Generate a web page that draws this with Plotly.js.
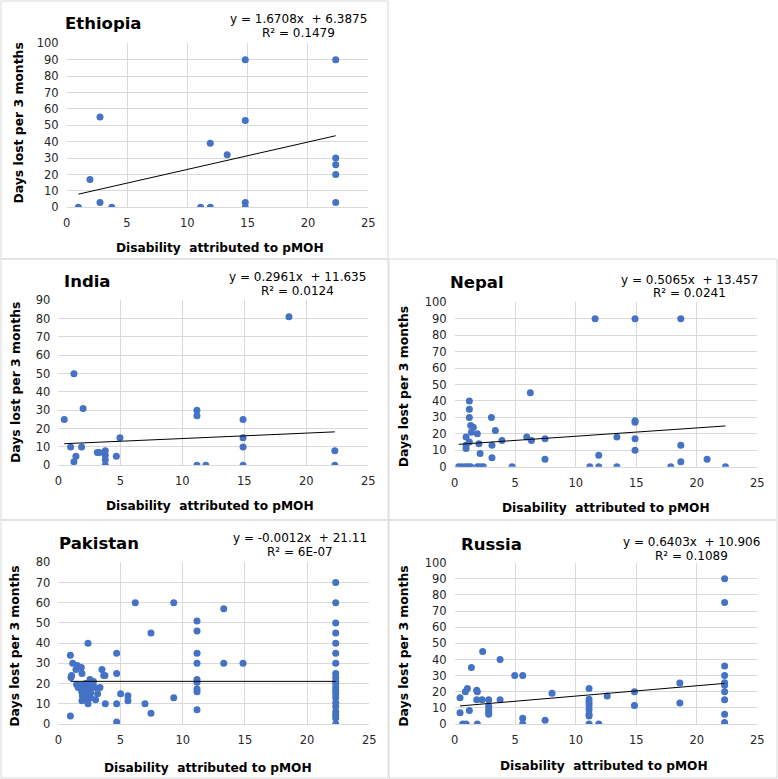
<!DOCTYPE html>
<html>
<head>
<meta charset="utf-8">
<script src="https://cdn.plot.ly/plotly-3.0.1.min.js"></script>
<style>body{margin:0;background:#fff}#plot{width:778px;height:779px}</style>
</head>
<body>
<div id="plot"></div>
<script>
// values
var countries = ["Ethiopia", "India", "Nepal", "Pakistan", "Russia"];

var ethX = [0.97, 1.93, 2.76, 2.76, 3.73, 11.1, 11.9, 11.9, 13.3, 14.8, 14.8, 14.8, 14.8, 22.3, 22.3, 22.3, 22.3, 22.3];
var ethY = [0, 17, 55, 3, 0, 0, 0, 39, 32, 90, 53, 3, 0, 90, 30, 26, 20, 3];

var indX = [0.48, 1.26, 2.0, 0.99, 1.88, 1.26, 1.42, 3.15, 3.3, 3.79, 3.79, 3.79, 3.79, 4.68, 4.97, 11.18, 11.18, 11.18, 11.9, 14.9, 14.9, 14.9, 14.9, 18.6, 22.3, 22.3];
var indY = [25, 50, 31, 10, 10, 2, 5, 7, 7, 8, 5.5, 3, 0, 5, 15, 30, 27, 0, 0, 25, 15, 10, 0, 81, 8, 0];

var nepX = [0.33, 0.6, 0.88, 1.1, 1.32, 1.87, 2.1, 2.37, 4.74, 11.16, 11.9, 13.4, 17.85, 22.37,
  1.21, 1.21, 1.21, 1.32, 1.54, 1.38, 0.94, 0.94, 0.94, 1.21, 1.87, 2.0, 2.1,
  3.03, 3.08, 3.08, 3.36, 3.9, 5.95, 6.25, 6.34, 7.46, 7.46,
  11.6, 11.9, 13.4, 14.9, 14.9, 14.9, 14.9, 14.9, 18.68, 18.68, 18.68, 20.85];
var nepY = [0, 0, 0, 0, 0, 0, 0, 0, 0, 0, 0, 0, 0, 0,
  40, 35, 30, 25, 24, 21, 18, 13, 11, 15, 20, 14, 8,
  30, 13, 5.5, 22, 16, 18, 45, 16, 17, 4.5,
  90, 7, 18, 90, 28, 27, 17, 10, 90, 13, 3, 4.5];

var pakX = [0.97, 0.97, 1.02, 1.07, 1.16, 1.42, 1.53, 1.85, 1.47, 1.6, 1.74, 1.9, 1.88, 1.93, 1.9, 1.88,
  2.39, 2.23, 2.33, 2.39, 2.44, 2.55, 2.6, 2.5, 2.82, 2.95, 3.0, 3.16, 3.35, 3.51, 3.75, 3.65, 3.78, 2.7, 2.2, 2.1, 2.6,
  4.69, 4.69, 4.69, 4.69, 5.01, 5.6, 5.6, 6.19, 6.97, 7.45, 7.45, 9.28, 9.28,
  11.15, 11.15, 11.15, 11.15, 11.15, 11.15, 11.15, 11.15, 11.15, 13.3, 13.3, 14.85,
  22.3, 22.3, 22.3, 22.3, 22.3, 22.3, 22.3, 22.3, 22.3, 22.3, 22.3, 22.3, 22.3, 22.3, 22.3, 22.3, 22.3, 22.3, 22.3, 22.3, 22.3];
var pakY = [34, 4, 23, 24, 30, 27, 29, 28, 19.5, 18, 19, 25, 16, 14, 11.5, 19,
  40, 14, 12, 10, 17, 22, 15.5, 19, 21, 18, 12, 15, 18, 27, 24, 24, 10, 20, 20, 17, 13,
  35, 25, 10, 1, 15, 14, 11.5, 60, 10, 45, 5.3, 60, 13,
  51, 46, 35, 30, 22, 20.6, 17.3, 16, 7, 57, 30, 30,
  70, 60, 50, 45, 40, 35, 30, 25, 23, 21, 20, 18, 16.5, 15, 13, 10.5, 8.5, 6, 4.5, 3, 0];

var rusX = [0.44, 0.44, 0.66, 0.94, 0.88, 1.05, 1.21, 1.38, 1.82, 1.87, 1.82, 1.87, 2.26, 2.31, 2.81, 2.81, 2.81, 2.81, 2.81,
  3.75, 3.75, 4.96, 5.62, 5.62, 5.62, 7.47, 8.04, 11.1, 11.1, 11.1, 11.1, 11.1, 11.1, 11.1, 11.1, 11.9, 12.6,
  14.85, 14.85, 18.6, 18.6, 22.3, 22.3, 22.3, 22.3, 22.3, 22.3, 22.3, 22.3, 22.3, 22.3];
var rusY = [16.3, 7, 0, 0, 20, 22, 8.3, 35, 21, 20, 15, 0, 15, 45, 15, 11, 9, 7.4, 6,
  15, 40, 30, 30, 3.5, 0, 2.3, 19, 22, 15.3, 13.4, 11.4, 9, 6, 5, 0, 0, 17.4,
  20, 11.4, 25.4, 13, 90, 75.4, 36, 30, 25.6, 24, 20, 15, 6, 1];

// trendline labels shown in the chart
var slopes = [1.6708, 0.2961, 0.5065, -0.0012, 0.6403];
var intercepts = [6.3875, 11.635, 13.457, 21.11, 10.906];
var r2Labels = ["0.1479", "0.0124", "0.0241", "6E-07", "0.1089"];
var yMax = [100, 90, 100, 80, 100];

var xs = [ethX, indX, nepX, pakX, rusX];
var ys = [ethY, indY, nepY, pakY, rusY];

// page layout, in pixels
var W = 778, H = 779;
var boxes = [[1, 1, 388, 259], [1, 259, 388, 520], [389, 259, 777, 520], [1, 520, 388, 778], [389, 520, 777, 778]];
var plotArea = [[66.7, 368.3, 43.3, 207.3], [58.3, 368.3, 300.3, 465.3], [454.7, 757.3, 302.3, 466.7],
  [58.3, 369.3, 562.3, 724], [454.7, 757.3, 562.7, 724]];
var titlePos = [[62.7, 23.3], [61.7, 281.3], [448, 283], [57.3, 543.3], [458.7, 544.3]];
var eqPos = [[298.5, 19.3, 33.3], [297.7, 277, 291.3], [689.7, 279.7, 293], [300, 538.3, 551.7], [691.7, 541.7, 555.7]];
var xtPos = [[220, 248.3], [210.5, 506.3], [606.3, 508], [207.5, 768.3], [603.7, 765.7]];
var ytPos = [[18.3, 123.3], [15, 383], [403, 386.3], [15, 646.7], [404, 646.7]];

function fx(p) { return p / W; }
function fy(p) { return 1 - p / H; }

var blue = "#4472C4";
var grid = "#d9d9d9";
var tickFont = {family: "DejaVu Sans", size: 11.5, color: "#262626"};

var traces = [];
var layout = {
  width: W, height: H,
  margin: {l: 0, r: 0, t: 0, b: 0},
  paper_bgcolor: "#fff", plot_bgcolor: "#fff",
  showlegend: false,
  annotations: [], shapes: []
};

for (var i = 0; i < 5; i++) {
  var n = i === 0 ? "" : String(i + 1);
  var xa = "x" + n, ya = "y" + n;

  traces.push({
    x: xs[i], y: ys[i], xaxis: xa, yaxis: ya,
    type: "scatter", mode: "markers",
    marker: {color: blue, size: 7},
    hoverinfo: "skip"
  });

  var x0 = Math.min.apply(null, xs[i]), x1 = Math.max.apply(null, xs[i]);
  traces.push({
    x: [x0, x1], y: [slopes[i] * x0 + intercepts[i], slopes[i] * x1 + intercepts[i]],
    xaxis: xa, yaxis: ya, type: "scatter", mode: "lines",
    line: {color: "#000", width: 1}, hoverinfo: "skip"
  });

  var pa = plotArea[i];
  layout["xaxis" + n] = {
    domain: [fx(pa[0]), fx(pa[1])], anchor: ya,
    range: [0, 25], dtick: 5, tick0: 0,
    showgrid: true, gridcolor: grid, gridwidth: 1, zeroline: false,
    showline: true, linecolor: grid, mirror: false,
    ticks: "", ticklabelstandoff: 5, tickfont: tickFont, fixedrange: true
  };
  layout["yaxis" + n] = {
    domain: [fy(pa[3]), fy(pa[2])], anchor: xa,
    range: [0, yMax[i]], dtick: 10, tick0: 0,
    showgrid: true, gridcolor: grid, gridwidth: 1, zeroline: false,
    showline: false, ticks: "", ticklabelstandoff: 7, tickfont: tickFont, fixedrange: true
  };

  var b = boxes[i];
  layout.shapes.push({type: "rect", xref: "paper", yref: "paper",
    x0: fx(b[0]), x1: fx(b[2]), y0: fy(b[1]), y1: fy(b[3]),
    line: {color: grid, width: 1}, layer: "below"});

  layout.annotations.push({
    xref: "paper", yref: "paper", x: fx(titlePos[i][0]), y: fy(titlePos[i][1]),
    xanchor: "left", yanchor: "middle", showarrow: false,
    text: "<b>" + countries[i] + "</b>",
    font: {family: "DejaVu Sans", size: 16.5, color: "#000"}
  });
  var e = eqPos[i];
  layout.annotations.push({
    xref: "paper", yref: "paper", x: fx(e[0]), y: fy(e[1]),
    xanchor: "center", yanchor: "middle", showarrow: false,
    text: "y = " + slopes[i] + "x  + " + intercepts[i],
    font: {family: "DejaVu Sans", size: 12, color: "#000"}
  });
  layout.annotations.push({
    xref: "paper", yref: "paper", x: fx(e[0]), y: fy(e[2]),
    xanchor: "center", yanchor: "middle", showarrow: false,
    text: "R² = " + r2Labels[i],
    font: {family: "DejaVu Sans", size: 12, color: "#000"}
  });
  layout.annotations.push({
    xref: "paper", yref: "paper", x: fx(xtPos[i][0]), y: fy(xtPos[i][1]),
    xanchor: "center", yanchor: "middle", showarrow: false,
    text: "<b>Disability  attributed to pMOH</b>",
    font: {family: "DejaVu Sans", size: 12.2, color: "#000"}
  });
  layout.annotations.push({
    xref: "paper", yref: "paper", x: fx(ytPos[i][0]), y: fy(ytPos[i][1]),
    xanchor: "center", yanchor: "middle", showarrow: false, textangle: -90,
    text: "<b>Days lost per 3 months</b>",
    font: {family: "DejaVu Sans", size: 12.4, color: "#000"}
  });
}

Plotly.newPlot("plot", traces, layout, {displayModeBar: false, staticPlot: true});
</script>
</body>
</html>
